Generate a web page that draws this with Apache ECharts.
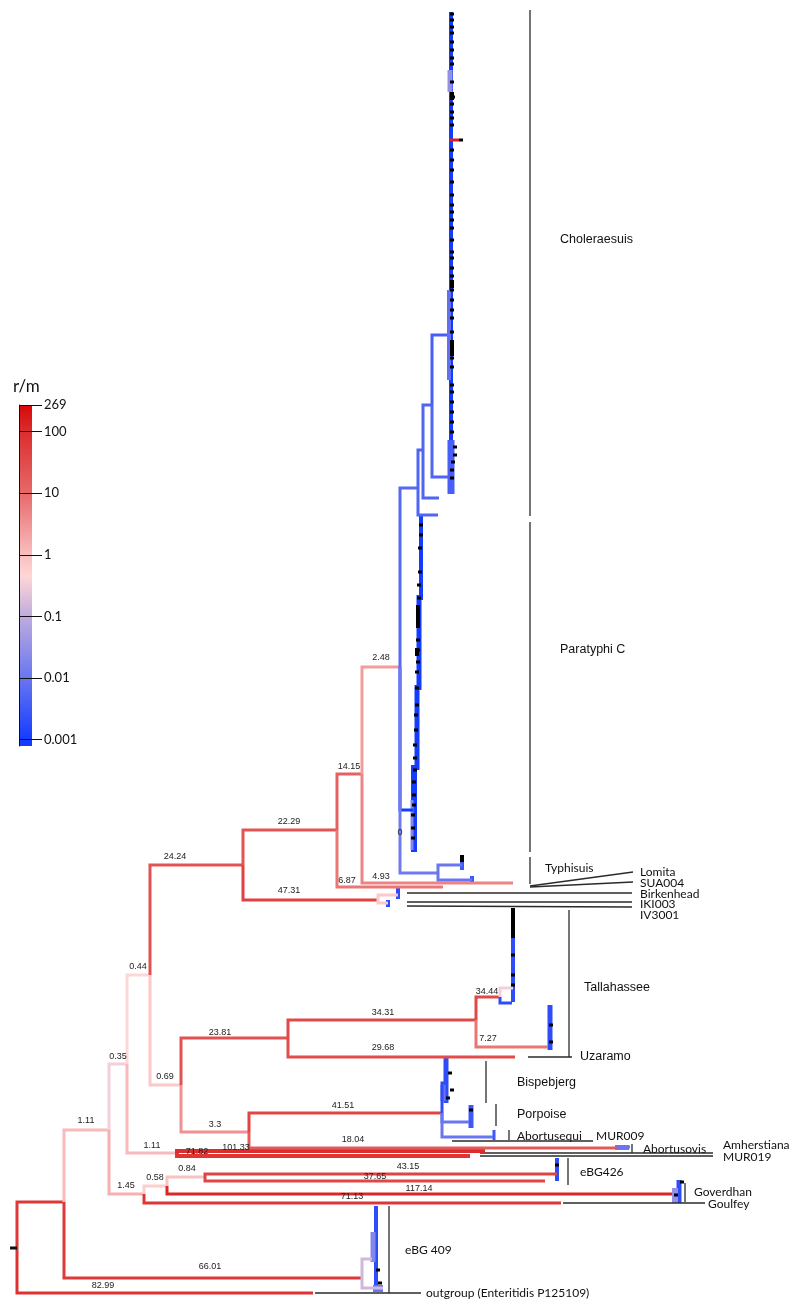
<!DOCTYPE html>
<html><head><meta charset="utf-8">
<script src="https://cdn.jsdelivr.net/npm/echarts@6/dist/echarts.min.js"></script>
<style>html,body{margin:0;padding:0;background:#fff}#c{width:800px;height:1311px}</style>
</head><body><div id="c"></div>
<script>
// ---------------- DATA ----------------
// tree nodes: [id, parent, x (tree depth), y (row), r/m value, branch label]
const backboneNodes = [
  ['root', null, 17, 1248, null, ''],
  ['out', 'root', 313, 1293, 82.99, '82.99'],
  ['A', 'root', 64, 1202, 66, ''],
  ['e409', 'A', 362, 1278, 66.01, '66.01'],
  ['B', 'A', 109, 1130, 1.11, '1.11'],
  ['C', 'B', 127, 1064, 0.35, '0.35'],
  ['D', 'B', 144, 1194, 1.45, '1.45'],
  ['Goulfey', 'D', 561, 1203, 71.13, '71.13'],
  ['E', 'D', 167, 1186, 0.58, '0.58'],
  ['F', 'E', 205, 1177, 0.84, '0.84'],
  ['eBG426a', 'F', 557, 1174, 43.15, '43.15'],
  ['eBG426b', 'F', 545, 1181, 37.65, '37.65'],
  ['Goverdhan', 'E', 672, 1194, 117.14, '117.14'],
  ['G', 'C', 150, 975, 0.44, '0.44'],
  ['AM', 'C', 177, 1153, 1.11, '1.11'],
  ['Amherstiana', 'AM', 485, 1151, 101.33, '101.33'],
  ['MUR019', 'AM', 470, 1156, 71.82, '71.82'],
  ['H', 'G', 243, 865, 24.24, '24.24'],
  ['I', 'G', 181, 1085, 0.69, '0.69'],
  ['J', 'I', 288, 1038, 23.81, '23.81'],
  ['K', 'I', 249, 1132, 3.3, '3.3'],
  ['L', 'J', 476, 1020, 34.31, '34.31'],
  ['Uzaramo', 'J', 515, 1057, 29.68, '29.68'],
  ['Tal', 'L', 500, 997, 34.44, '34.44'],
  ['Uz2', 'L', 548, 1047, 7.27, '7.27'],
  ['M', 'K', 442, 1113, 41.51, '41.51'],
  ['Aovis', 'K', 618, 1148, 18.04, '18.04'],
  ['N', 'H', 337, 830, 22.29, '22.29'],
  ['Bk', 'H', 378, 900, 47.31, '47.31'],
  ['O', 'N', 362, 774, 14.15, '14.15'],
  ['SUA004', 'N', 443, 887, 6.87, '6.87'],
  ['Q', 'O', 400, 667, 2.48, '2.48'],
  ['Lomita', 'O', 513, 883, 4.93, '4.93']
];
const cladeNodes = [
  ['R1', 'Q', 418, 488, 0.006, ''],
  ['PCb', 'Q', 413, 810, 0.001, ''],
  ['Ty', 'Q', 438, 873, 0.012, ''],
  ['R2', 'R1', 423, 450, 0.005, ''],
  ['t515', 'R1', 438, 515, 0.005, ''],
  ['R3', 'R2', 432, 405, 0.005, ''],
  ['t498', 'R2', 439, 498, 0.005, ''],
  ['ChA', 'R3', 447, 335, 0.004, ''],
  ['ChB', 'R3', 448, 477, 0.005, ''],
  ['ty1', 'Ty', 462, 865, 0.01, ''],
  ['ty2', 'Ty', 472, 880, 0.01, ''],
  ['bk1', 'Bk', 398, 895, 0.7, ''],
  ['bk2', 'Bk', 388, 903, 0.7, ''],
  ['tal1', 'Tal', 513, 988, 0.35, ''],
  ['tal2', 'Tal', 512, 1003, 0.002, ''],
  ['bis', 'M', 447, 1083, 0.002, ''],
  ['por', 'M', 469, 1122, 0.01, ''],
  ['aeq', 'M', 493, 1137, 0.01, ''],
  ['aov1', 'Aovis', 630, 1147, 0.01, ''],
  ['e1', 'e409', 372, 1259, 0.15, ''],
  ['e2', 'e409', 383, 1288, 0.15, '']
];
// collapsed leaf columns: [x, yTop, yBottom, r/m, breadth]
const leafColumns = [
  [451, 12, 380, 0.001, 4], [450, 70, 92, 0.03, 5], [449, 290, 380, 0.008, 4],
  [451, 380, 470, 0.001, 4], [451, 440, 494, 0.004, 7],
  [421, 515, 600, 0.001, 4], [419, 595, 690, 0.001, 5], [417, 685, 770, 0.001, 5],
  [414, 765, 852, 0.001, 6], [412, 800, 850, 0.02, 3],
  [462, 856, 870, 0.003, 4], [472, 876, 884, 0.003, 4],
  [398, 888, 899, 0.002, 4], [388, 900, 907, 0.002, 4],
  [513, 908, 1002, 0.002, 4], [550, 1005, 1050, 0.002, 5],
  [446, 1058, 1103, 0.002, 5], [443, 1085, 1101, 0.01, 5],
  [471, 1105, 1128, 0.003, 5], [494, 1130, 1140, 0.003, 3],
  [622, 1145, 1150, 0.01, 14], [557, 1158, 1181, 0.002, 4],
  [679, 1180, 1203, 0.002, 5], [675, 1188, 1203, 0.03, 6],
  [376, 1206, 1292, 0.002, 4], [373, 1232, 1262, 0.02, 5], [378, 1285, 1292, 0.01, 10]
];
// black isolate marks: [x, y]
const blackMarks = [
  [452,14],[452,20],[452,27],[452,33],[452,42],[452,50],[452,58],[452,64],[452,82],[453,97],
  [452,104],[452,112],[452,118],[452,125],[461,140],[452,150],[452,160],[452,170],[452,182],[452,195],
  [452,205],[452,212],[452,220],[452,228],[452,240],[452,252],[452,258],[452,268],[452,276],[452,290],
  [452,300],[452,310],[452,318],[452,332],[452,343],[452,350],[452,358],[452,367],[452,385],[452,392],
  [452,402],[452,412],[452,422],[452,432],[455,447],[455,455],[453,462],[452,470],[452,478],
  [421,525],[421,535],[420,548],[420,572],[419,585],[419,598],[418,640],[418,650],[418,662],[417,672],
  [417,688],[417,705],[416,715],[416,730],[415,745],[415,758],[415,770],[414,782],[414,795],[414,805],
  [413,815],[413,828],[413,838],
  [513,955],[513,975],[513,985],[551,1025],[551,1042],
  [450,1073],[452,1090],[448,1098],[471,1110],[682,1182],[676,1195],[557,1165],[378,1270],[380,1283]
];
// long black blocks: [x, yTop, yBottom]
const blackBlocks = [
  [452, 92, 100], [452, 280, 288], [452, 340, 356], [418, 605, 628], [417, 648, 656],
  [513, 908, 938], [462, 855, 862]
];
// red recombinant blip in Choleraesuis: [x0, x1, y, r/m]
const blips = [[449, 459, 140, 150]];
// clade bars: [x, yTop, yBottom]
const cladeBars = [
  [530, 10, 516], [530, 522, 852], [530, 857, 884], [569, 910, 1057], [486, 1061, 1103],
  [496, 1104, 1126], [509, 1130, 1140], [632, 1144, 1153], [568, 1158, 1185],
  [685, 1183, 1202], [389, 1206, 1293]
];
// leader lines: [x1, y1, x2, y2]
const leaders = [
  [530, 886, 633, 872], [530, 887, 633, 882], [407, 893, 632, 893], [407, 902, 632, 902],
  [407, 906, 632, 907], [528, 1057, 572, 1057], [452, 1141, 593, 1141],
  [480, 1153, 713, 1153], [480, 1156, 713, 1156], [563, 1203, 705, 1203], [315, 1293, 421, 1293]
];
// clade names: [text, x, y, style]  (style: 'h' helvetica-like, 'm' myriad-like)
const cladeNames = [
  ['Choleraesuis', 560, 240, 'h'], ['Paratyphi C', 560, 650, 'h'], ['Tallahassee', 584, 988, 'h'],
  ['Uzaramo', 580, 1057, 'h'], ['Bispebjerg', 517, 1083, 'h'], ['Porpoise', 517, 1115, 'h'],
  ['Typhisuis', 545, 868, 'm'], ['Lomita', 640, 872, 'm'], ['SUA004', 640, 883, 'm'],
  ['Birkenhead', 640, 894, 'm'], ['IKI003', 640, 904, 'm'], ['IV3001', 640, 915, 'm'],
  ['Abortusequi', 517, 1136, 'm'], ['MUR009', 596, 1136, 'm'], ['Abortusovis', 643, 1149, 'm'],
  ['Amherstiana', 723, 1145, 'm'], ['MUR019', 723, 1157, 'm'], ['eBG426', 580, 1172, 'm'],
  ['Goverdhan', 694, 1192, 'm'], ['Goulfey', 708, 1204, 'm'], ['eBG 409', 405, 1250, 'm'],
  ['outgroup (Enteritidis P125109)', 426, 1293, 'm']
];
// colour bar ticks (r/m)
const barTicks = [0.001, 0.01, 0.1, 1, 10, 100, 269];
const barMin = 0.00079, barMax = 269;

// ---------------- LAYOUT (label placement) ----------------
const labelPos = {
  out:[103,1286], e409:[210,1267], B:[86,1121], C:[118,1057], D:[126,1186], E:[155,1178], F:[187,1169],
  eBG426a:[408,1167], eBG426b:[375,1177], Goverdhan:[419,1189], Goulfey:[352,1197], G:[138,967],
  AM:[152,1146], Amherstiana:[236,1148], MUR019:[197,1152], H:[175,857], I:[165,1077],
  J:[220,1033], K:[215,1125], L:[383,1013], Uzaramo:[383,1048], Tal:[487,992], Uz2:[488,1039],
  M:[343,1106], Aovis:[353,1140], N:[289,822], Bk:[289,891], O:[349,767], SUA004:[347,881],
  Q:[381,658], Lomita:[381,877]
};

// ---------------- COLOUR ----------------
const cStops = [[-3,[20,60,255]],[-2,[105,118,240]],[-1,[190,172,222]],[-0.35,[255,214,214]],
  [0,[249,190,190]],[1,[231,105,105]],[2,[220,45,45]],[2.43,[214,8,8]]];
function rmColor(v){
  const l = Math.log10(Math.max(v, 1e-3));
  if (l <= cStops[0][0]) return 'rgb(' + cStops[0][1].join(',') + ')';
  for (let i = 1; i < cStops.length; i++){
    if (l <= cStops[i][0]){
      const t = (l - cStops[i-1][0]) / (cStops[i][0] - cStops[i-1][0]);
      const a = cStops[i-1][1], b = cStops[i][1];
      return 'rgb(' + [0,1,2].map(k => Math.round(a[k] + (b[k]-a[k])*t)).join(',') + ')';
    }
  }
  return 'rgb(' + cStops[cStops.length-1][1].join(',') + ')';
}

const allNodes = backboneNodes.concat(cladeNodes);
const byId = {};
allNodes.forEach(n => byId[n[0]] = n);
const branchNodes = allNodes.filter(n => n[1]);
const labelledNodes = backboneNodes.filter(n => n[5]);
const thick = {Amherstiana: 4, MUR019: 4};

const HF = '"Liberation Sans", Arial, sans-serif';
const MF = 'Lato, "Open Sans", sans-serif';

const chart = echarts.init(document.getElementById('c'), null, {renderer: 'canvas'});
const ax = {xAxisIndex: 0, yAxisIndex: 0, coordinateSystem: 'cartesian2d'};

const option = {
  animation: false,
  backgroundColor: '#fff',
  grid: [
    {left: 0, top: 0, width: 800, height: 1311},
    {left: 19, top: 405, width: 23, height: 341}
  ],
  xAxis: [
    {type: 'value', min: 0, max: 800, show: false, gridIndex: 0},
    {type: 'value', min: 0, max: 1, show: false, gridIndex: 1}
  ],
  yAxis: [
    {type: 'value', min: 0, max: 1311, inverse: true, show: false, gridIndex: 0},
    {type: 'value', gridIndex: 1, min: Math.log10(barMin), max: Math.log10(barMax), z: 10,
      splitLine: {show: false},
      axisLine: {show: true, lineStyle: {color: '#111', width: 1}},
      axisTick: {show: true, inside: true, length: 23, lineStyle: {color: '#111', width: 1},
        customValues: barTicks.map(v => Math.log10(v))},
      axisLabel: {show: true, inside: true, margin: 25, fontSize: 13, fontFamily: MF, color: '#111',
        customValues: barTicks.map(v => Math.log10(v)),
        formatter: v => String(+Math.pow(10, v).toPrecision(3))}
    }
  ],
  graphic: [{type: 'text', left: 13, top: 378, style: {text: 'r/m', fontSize: 17, fontFamily: MF, fill: '#111'}}],
  series: [
    // colour bar
    {type: 'custom', xAxisIndex: 1, yAxisIndex: 1, coordinateSystem: 'cartesian2d', z: 1,
      data: [[0, Math.log10(barMax)]],
      renderItem: (p, api) => {
        const top = api.coord([0, Math.log10(barMax)]);
        const bot = api.coord([0, Math.log10(barMin)]);
        const L0 = Math.log10(barMax), L1 = Math.log10(barMin);
        const stops = cStops.slice().reverse().map(s => ({
          offset: Math.min(1, Math.max(0, (L0 - s[0]) / (L0 - L1))), color: 'rgb(' + s[1].join(',') + ')'}));
        stops.push({offset: 1, color: 'rgb(' + cStops[0][1].join(',') + ')'});
        return {type: 'rect', shape: {x: top[0] + 1, y: top[1], width: 12, height: bot[1] - top[1]},
          style: {fill: new echarts.graphic.LinearGradient(0, 0, 0, 1, stops)}};
      }},
    // leaf columns
    Object.assign({type: 'custom', z: 3, data: leafColumns.map(c => [c[0], c[1]]),
      renderItem: (p, api) => {
        const c = leafColumns[p.dataIndex];
        const a = api.coord([c[0], c[1]]), b = api.coord([c[0], c[2]]);
        const w = api.size([c[4], 0])[0];
        return {type: 'rect', shape: {x: a[0] - w / 2, y: a[1], width: w, height: b[1] - a[1]},
          style: {fill: rmColor(c[3])}};
      }}, ax),
    // branches
    Object.assign({type: 'custom', z: 4, data: branchNodes.map(n => [n[2], n[3]]),
      renderItem: (p, api) => {
        const n = branchNodes[p.dataIndex], par = byId[n[1]];
        const a = api.coord([par[2], par[3]]), b = api.coord([par[2], n[3]]), c = api.coord([n[2], n[3]]);
        return {type: 'polyline', shape: {points: [a, b, c]},
          style: {stroke: rmColor(n[4]), lineWidth: thick[n[0]] || 3, fill: null, lineJoin: 'miter', lineCap: 'butt'}};
      }}, ax),
    // root stub
    Object.assign({type: 'custom', z: 4, data: [[17, 1248]],
      renderItem: (p, api) => {
        const a = api.coord([10, 1248]), b = api.coord([17, 1248]);
        return {type: 'line', shape: {x1: a[0], y1: a[1], x2: b[0], y2: b[1]}, style: {stroke: '#111', lineWidth: 3}};
      }}, ax),
    // red blip
    Object.assign({type: 'custom', z: 5, data: blips.map(b => [b[0], b[2]]),
      renderItem: (p, api) => {
        const b = blips[p.dataIndex];
        const a = api.coord([b[0], b[2]]), c = api.coord([b[1], b[2]]);
        return {type: 'line', shape: {x1: a[0], y1: a[1], x2: c[0], y2: c[1]}, style: {stroke: rmColor(b[3]), lineWidth: 3}};
      }}, ax),
    // black marks
    Object.assign({type: 'custom', z: 6, data: blackMarks,
      renderItem: (p, api) => {
        const m = blackMarks[p.dataIndex];
        const a = api.coord([m[0], m[1]]);
        return {type: 'rect', shape: {x: a[0] - 2, y: a[1] - 1.5, width: 4, height: 3}, style: {fill: '#000'}};
      }}, ax),
    Object.assign({type: 'custom', z: 6, data: blackBlocks.map(b => [b[0], b[1]]),
      renderItem: (p, api) => {
        const b = blackBlocks[p.dataIndex];
        const a = api.coord([b[0], b[1]]), c = api.coord([b[0], b[2]]);
        return {type: 'rect', shape: {x: a[0] - 2, y: a[1], width: 4, height: c[1] - a[1]}, style: {fill: '#000'}};
      }}, ax),
    // clade bars
    Object.assign({type: 'custom', z: 3, data: cladeBars.map(b => [b[0], b[1]]),
      renderItem: (p, api) => {
        const b = cladeBars[p.dataIndex];
        const a = api.coord([b[0], b[1]]), c = api.coord([b[0], b[2]]);
        return {type: 'line', shape: {x1: a[0], y1: a[1], x2: c[0], y2: c[1]}, style: {stroke: '#2a2a2a', lineWidth: 1.3}};
      }}, ax),
    // leader lines
    Object.assign({type: 'custom', z: 3, data: leaders.map(l => [l[0], l[1]]),
      renderItem: (p, api) => {
        const l = leaders[p.dataIndex];
        const a = api.coord([l[0], l[1]]), c = api.coord([l[2], l[3]]);
        return {type: 'line', shape: {x1: a[0], y1: a[1], x2: c[0], y2: c[1]}, style: {stroke: '#2a2a2a', lineWidth: 1.3}};
      }}, ax),
    // branch labels
    Object.assign({type: 'custom', z: 8, data: labelledNodes.map(n => [n[2], n[3]]),
      renderItem: (p, api) => {
        const n = labelledNodes[p.dataIndex];
        const a = api.coord(labelPos[n[0]]);
        return {type: 'text', x: a[0], y: a[1],
          style: {text: n[5], fontSize: 9, fontFamily: HF, fill: '#222', align: 'center', verticalAlign: 'middle'}};
      }}, ax),
    // zero label
    Object.assign({type: 'custom', z: 8, data: [[400, 833]],
      renderItem: (p, api) => {
        const a = api.coord([400, 833]);
        return {type: 'text', x: a[0], y: a[1], style: {text: '0', fontSize: 9, fontFamily: HF, fill: '#222', align: 'center', verticalAlign: 'middle'}};
      }}, ax),
    // clade names
    Object.assign({type: 'custom', z: 8, data: cladeNames.map(c => [c[1], c[2]]),
      renderItem: (p, api) => {
        const c = cladeNames[p.dataIndex];
        const a = api.coord([c[1], c[2]]);
        const h = c[3] === 'h';
        return {type: 'text', x: a[0], y: a[1],
          style: {text: c[0], fontSize: h ? 12.5 : 12, fontFamily: h ? HF : MF, fill: '#111', align: 'left', verticalAlign: 'middle'}};
      }}, ax)
  ]
};
chart.setOption(option);
</script>
</body></html>
